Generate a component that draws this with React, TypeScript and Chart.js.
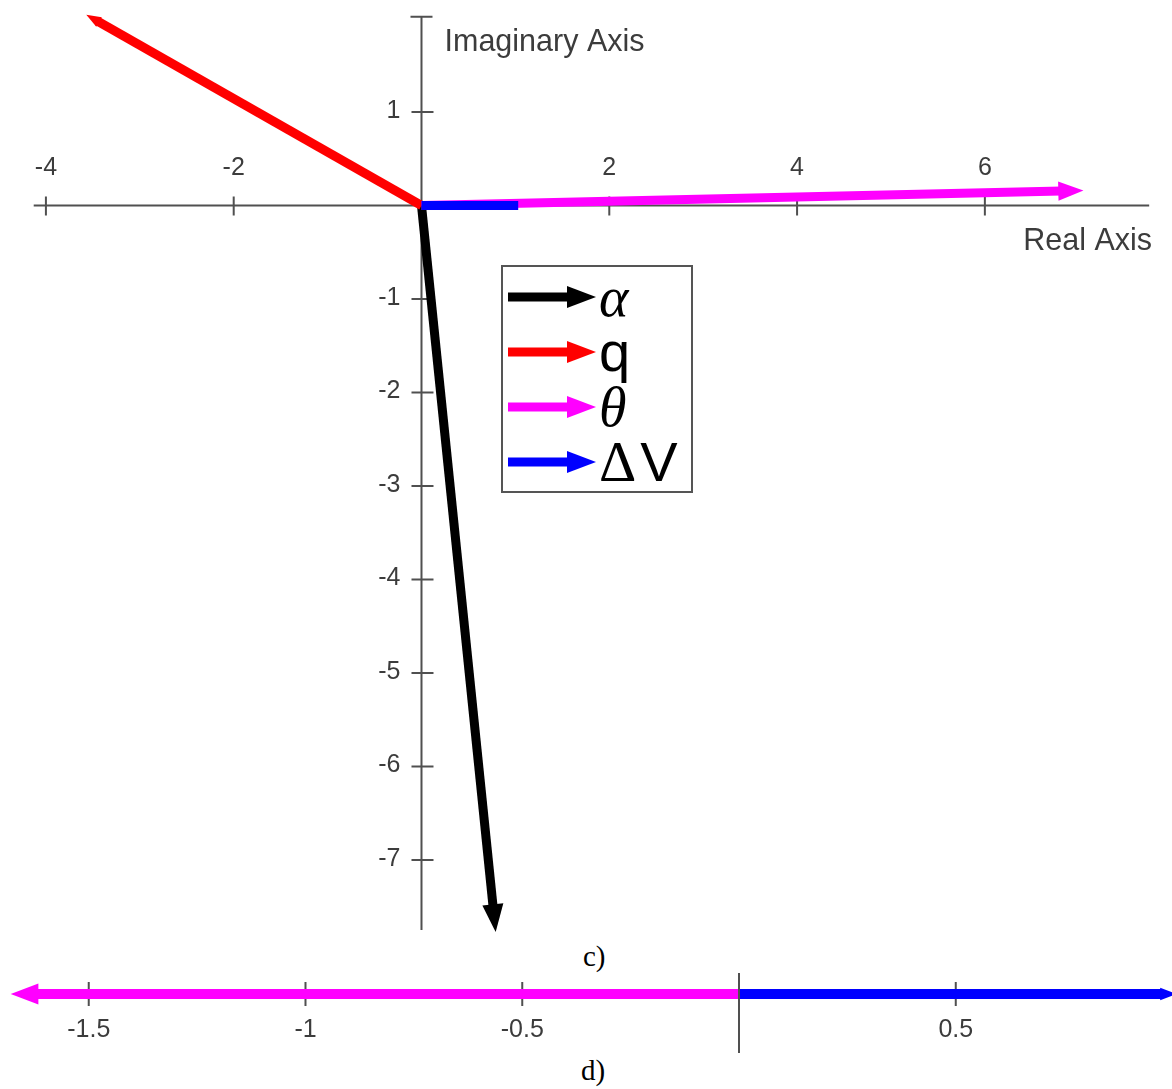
import React, { useEffect, useRef } from "react";
import { Chart, registerables } from "chart.js";

Chart.register(...registerables);

// ---------- (c) phasors in the complex plane ----------
const phasorNames = ["α", "q", "θ", "ΔV"];
const phasorColors = ["#000000", "#ff0000", "#ff00ff", "#0000ff"];
const phasorReal = [0.79, -3.57, 7.05, 1.03];
const phasorImag = [-7.77, 2.04, 0.16, 0.0];

const realTicks = [-4, -2, 2, 4, 6];
const realTickLabels = ["-4", "-2", "2", "4", "6"];
const imagTicks = [1, -1, -2, -3, -4, -5, -6, -7];
const imagTickLabels = ["1", "-1", "-2", "-3", "-4", "-5", "-6", "-7"];
const realAxisLimits = [-4.13, 7.75];
const imagAxisLimits = [-7.75, 2.02];
const planeRangeX = [-4.489, 7.993];
const planeRangeY = [-7.856, 2.198];

// ---------- (d) projection on the real line ----------
const stripNames = ["θ", "ΔV"];
const stripColors = ["#ff00ff", "#0000ff"];
const stripValues = [-1.68, 1.01];
const stripTicks = [-1.5, -1, -0.5, 0.5];
const stripTickLabels = ["-1.5", "-1", "-0.5", "0.5"];
const stripAxisLimits = [-1.66, 1.01];
const stripRangeX = [-1.7047, 0.9988];
const stripRangeY = [-0.7375, 0.2625];

const AXIS_COLOR = "#505050";
const TEXT_COLOR = "#3c3c3c";
const SANS = '"Liberation Sans", Arial, sans-serif';
const SERIF = '"Liberation Serif", "Times New Roman", serif';

// Arrowhead size follows the drawn length of each arrow
const HEAD_RATIO = 0.038;
const HEAD_ASPECT = 0.38;

type Geo = { x1: number; y1: number; ux: number; uy: number; L: number; hw: number };

function headGeometry(chart: any, index: number): Geo {
  const ds = chart.data.datasets[index];
  const xs = chart.scales.x;
  const ys = chart.scales.y;
  const a = ds.data[0];
  const b = ds.data[ds.data.length - 1];
  const x0 = xs.getPixelForValue(a.x);
  const y0 = ys.getPixelForValue(a.y);
  const x1 = xs.getPixelForValue(b.x);
  const y1 = ys.getPixelForValue(b.y);
  const dx = x1 - x0;
  const dy = y1 - y0;
  const len = Math.hypot(dx, dy) || 1;
  const L = len * HEAD_RATIO;
  return { x1, y1, ux: dx / len, uy: dy / len, L, hw: L * HEAD_ASPECT };
}

const arrowHeads = {
  id: "arrowHeads",
  beforeDatasetDraw(chart: any, args: any) {
    const ctx = chart.ctx;
    const ds = chart.data.datasets[args.index];
    const g = headGeometry(chart, args.index);
    const w = ds.borderWidth;
    ctx.save();
    if (2 * g.hw > w) {
      // keep the shaft out of the narrow part of the head
      const d0 = (g.L * w) / (2 * g.hw) + 1;
      const px = -g.uy;
      const py = g.ux;
      const bx = g.x1 - g.ux * d0;
      const by = g.y1 - g.uy * d0;
      const fx = g.x1 + g.ux * w;
      const fy = g.y1 + g.uy * w;
      ctx.beginPath();
      ctx.rect(0, 0, chart.width, chart.height);
      ctx.moveTo(bx + px * w, by + py * w);
      ctx.lineTo(fx + px * w, fy + py * w);
      ctx.lineTo(fx - px * w, fy - py * w);
      ctx.lineTo(bx - px * w, by - py * w);
      ctx.closePath();
      ctx.clip("evenodd");
    }
  },
  afterDatasetDraw(chart: any, args: any) {
    const ctx = chart.ctx;
    ctx.restore();
    const ds = chart.data.datasets[args.index];
    const g = headGeometry(chart, args.index);
    const area = chart.chartArea;
    const bx = g.x1 - g.ux * g.L;
    const by = g.y1 - g.uy * g.L;
    const px = -g.uy;
    const py = g.ux;
    ctx.save();
    ctx.beginPath();
    ctx.rect(area.left, area.top, area.right - area.left, area.bottom - area.top);
    ctx.clip();
    ctx.fillStyle = ds.borderColor;
    ctx.beginPath();
    ctx.moveTo(g.x1, g.y1);
    ctx.lineTo(bx + px * g.hw, by + py * g.hw);
    ctx.lineTo(bx - px * g.hw, by - py * g.hw);
    ctx.closePath();
    ctx.fill();
    ctx.restore();
  },
};

const planeAxes = {
  id: "planeAxes",
  beforeDatasetsDraw(chart: any) {
    const ctx = chart.ctx;
    const xs = chart.scales.x;
    const ys = chart.scales.y;
    const ox = xs.getPixelForValue(0);
    const oy = ys.getPixelForValue(0);
    ctx.save();
    ctx.strokeStyle = AXIS_COLOR;
    ctx.lineWidth = 2;
    ctx.beginPath();
    ctx.moveTo(xs.getPixelForValue(realAxisLimits[0]), oy);
    ctx.lineTo(xs.getPixelForValue(realAxisLimits[1]), oy);
    ctx.moveTo(ox, ys.getPixelForValue(imagAxisLimits[0]));
    ctx.lineTo(ox, ys.getPixelForValue(imagAxisLimits[1]));
    // end cap on top of the imaginary axis
    const top = ys.getPixelForValue(imagAxisLimits[1]);
    ctx.moveTo(ox - 11, top);
    ctx.lineTo(ox + 11, top);
    realTicks.forEach((v) => {
      const px = xs.getPixelForValue(v);
      ctx.moveTo(px, oy - 9);
      ctx.lineTo(px, oy + 10);
    });
    imagTicks.forEach((v) => {
      const py = ys.getPixelForValue(v);
      ctx.moveTo(ox - 10, py);
      ctx.lineTo(ox + 12, py);
    });
    ctx.stroke();

    ctx.fillStyle = TEXT_COLOR;
    ctx.font = `25px ${SANS}`;
    ctx.textAlign = "center";
    ctx.textBaseline = "middle";
    realTicks.forEach((v, i) => {
      ctx.fillText(realTickLabels[i], xs.getPixelForValue(v), oy - 37);
    });
    ctx.textAlign = "right";
    imagTicks.forEach((v, i) => {
      ctx.fillText(imagTickLabels[i], ox - 21, ys.getPixelForValue(v) - 1);
    });
    ctx.font = `30.5px ${SANS}`;
    ctx.textBaseline = "alphabetic";
    ctx.textAlign = "left";
    ctx.fillText("Imaginary Axis", ox + 23, 51);
    ctx.textAlign = "right";
    ctx.fillText("Real Axis", 1152, 250);
    ctx.restore();
  },
};

// Draws a legend label, using italic serif for Greek letters
function drawSymbol(ctx: CanvasRenderingContext2D, text: string, x: number, y: number) {
  let cx = x;
  for (const ch of Array.from(text)) {
    if (/[α-ω]/.test(ch)) ctx.font = `italic 56px ${SERIF}`;
    else if (/[Α-Ω]/.test(ch)) ctx.font = `58px ${SERIF}`;
    else ctx.font = `56px ${SANS}`;
    ctx.fillText(ch, cx, y);
    cx += ctx.measureText(ch).width + (/[Α-Ω]/.test(ch) ? 4 : 0);
  }
}

const phasorLegend = {
  id: "phasorLegend",
  afterDraw(chart: any) {
    const ctx = chart.ctx;
    ctx.save();
    ctx.fillStyle = "#ffffff";
    ctx.fillRect(502, 266, 190, 226);
    ctx.strokeStyle = "#555555";
    ctx.lineWidth = 2;
    ctx.strokeRect(502, 266, 190, 226);
    phasorNames.forEach((name, i) => {
      const cy = 297 + 55 * i;
      ctx.strokeStyle = phasorColors[i];
      ctx.fillStyle = phasorColors[i];
      ctx.lineWidth = 9;
      ctx.beginPath();
      ctx.moveTo(508, cy);
      ctx.lineTo(572, cy);
      ctx.stroke();
      ctx.beginPath();
      ctx.moveTo(596, cy);
      ctx.lineTo(567, cy - 11);
      ctx.lineTo(567, cy + 11);
      ctx.closePath();
      ctx.fill();
      ctx.fillStyle = "#000000";
      ctx.textBaseline = "alphabetic";
      ctx.textAlign = "left";
      drawSymbol(ctx, name, 599, cy + 19);
    });
    ctx.restore();
  },
};

const stripAxes = {
  id: "stripAxes",
  beforeDatasetsDraw(chart: any) {
    const ctx = chart.ctx;
    const xs = chart.scales.x;
    const ys = chart.scales.y;
    const oy = ys.getPixelForValue(0);
    ctx.save();
    ctx.strokeStyle = AXIS_COLOR;
    ctx.lineWidth = 2;
    ctx.beginPath();
    ctx.moveTo(xs.getPixelForValue(stripAxisLimits[0]), oy);
    ctx.lineTo(xs.getPixelForValue(stripAxisLimits[1]), oy);
    stripTicks.forEach((v) => {
      const px = xs.getPixelForValue(v);
      ctx.moveTo(px, oy - 12);
      ctx.lineTo(px, oy + 12);
    });
    ctx.stroke();
    ctx.fillStyle = TEXT_COLOR;
    ctx.font = `25px ${SANS}`;
    ctx.textAlign = "center";
    ctx.textBaseline = "middle";
    stripTicks.forEach((v, i) => {
      ctx.fillText(stripTickLabels[i], xs.getPixelForValue(v), oy + 36);
    });
    ctx.restore();
  },
  afterDatasetsDraw(chart: any) {
    // the vertical axis sits over the vectors
    const ctx = chart.ctx;
    const ox = chart.scales.x.getPixelForValue(0);
    const area = chart.chartArea;
    ctx.save();
    ctx.strokeStyle = AXIS_COLOR;
    ctx.lineWidth = 2;
    ctx.beginPath();
    ctx.moveTo(ox, area.top);
    ctx.lineTo(ox, area.bottom);
    ctx.stroke();
    ctx.restore();
  },
};

function baseOptions(rx: number[], ry: number[]): any {
  return {
    animation: false,
    responsive: false,
    maintainAspectRatio: false,
    events: [],
    layout: { padding: 0 },
    scales: {
      x: { type: "linear", min: rx[0], max: rx[1], display: false },
      y: { type: "linear", min: ry[0], max: ry[1], display: false },
    },
    plugins: { legend: { display: false }, tooltip: { enabled: false } },
  };
}

export default function App() {
  const planeRef = useRef<HTMLCanvasElement>(null);
  const stripRef = useRef<HTMLCanvasElement>(null);

  useEffect(() => {
    const plane = new Chart(planeRef.current as HTMLCanvasElement, {
      type: "scatter",
      data: {
        datasets: phasorNames.map((name, i) => ({
          label: name,
          data: [
            { x: 0, y: 0 },
            { x: phasorReal[i], y: phasorImag[i] },
          ],
          showLine: true,
          borderColor: phasorColors[i],
          backgroundColor: phasorColors[i],
          borderWidth: 9,
          borderCapStyle: "butt",
          pointRadius: 0,
          order: phasorNames.length - i,
        })),
      },
      options: baseOptions(planeRangeX, planeRangeY),
      plugins: [planeAxes, arrowHeads, phasorLegend],
    } as any);

    const strip = new Chart(stripRef.current as HTMLCanvasElement, {
      type: "scatter",
      data: {
        datasets: stripNames.map((name, i) => ({
          label: name,
          data: [
            { x: 0, y: 0 },
            { x: stripValues[i], y: 0 },
          ],
          showLine: true,
          borderColor: stripColors[i],
          backgroundColor: stripColors[i],
          borderWidth: 10,
          borderCapStyle: "butt",
          pointRadius: 0,
          order: stripNames.length - i,
        })),
      },
      options: baseOptions(stripRangeX, stripRangeY),
      plugins: [stripAxes, arrowHeads],
    } as any);

    return () => {
      plane.destroy();
      strip.destroy();
    };
  }, []);

  const caption: React.CSSProperties = {
    position: "absolute",
    fontFamily: SERIF,
    fontSize: "29px",
    lineHeight: "29px",
    color: "#000",
    whiteSpace: "nowrap",
  };

  return (
    <div
      style={{
        position: "absolute",
        left: 0,
        top: 0,
        width: 1172,
        height: 1089,
        background: "#ffffff",
        overflow: "hidden",
      }}
    >
      <canvas
        ref={planeRef}
        width={1172}
        height={940}
        style={{ position: "absolute", left: 0, top: 0, width: 1172, height: 940 }}
      />
      <div style={{ ...caption, left: 583, top: 942 }}>c)</div>
      <canvas
        ref={stripRef}
        width={1172}
        height={80}
        style={{ position: "absolute", left: 0, top: 973, width: 1172, height: 80 }}
      />
      <div style={{ ...caption, left: 581, top: 1056 }}>d)</div>
    </div>
  );
}
